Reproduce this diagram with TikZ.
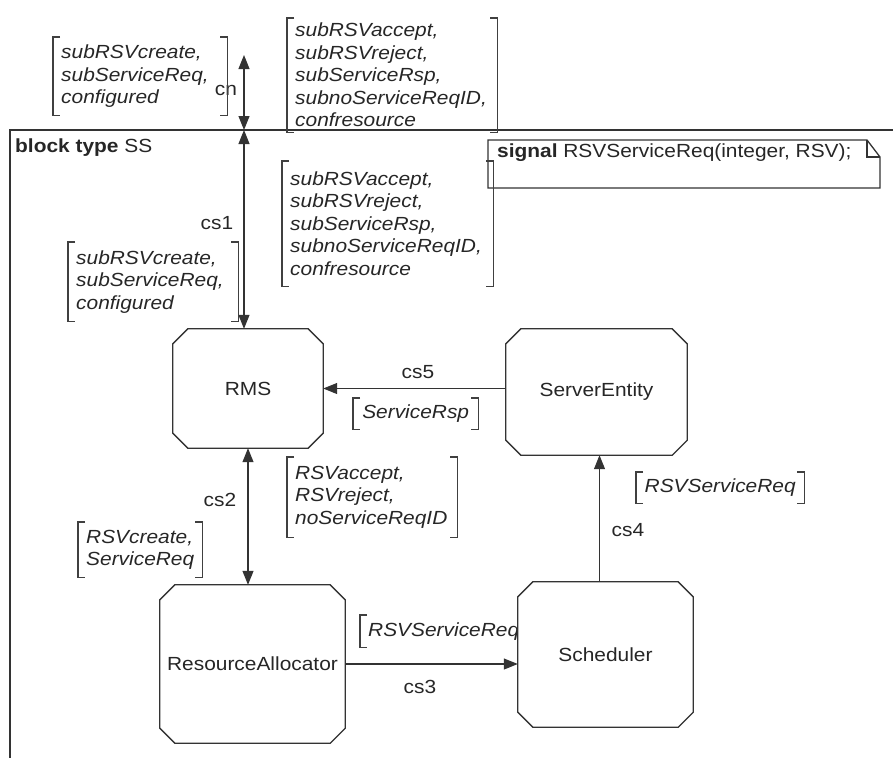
\documentclass[tikz,border=0pt]{standalone}
\usepackage{fontspec}
\setmainfont{Liberation Sans}[FakeStretch=1.1]
\usetikzlibrary{arrows.meta}
\pgfdeclarelayer{under}
\pgfdeclarelayer{boxes}
\pgfsetlayers{under,boxes,main}
\newcommand\octagonof[1]{\draw[boxline,fill=white] ([xshift=15pt]#1.north west) -- ([xshift=-15pt]#1.north east) -- ([yshift=-15pt]#1.north east) -- ([yshift=15pt]#1.south east) -- ([xshift=-15pt]#1.south east) -- ([xshift=15pt]#1.south west) -- ([yshift=15pt]#1.south west) -- ([yshift=-15pt]#1.north west) -- cycle;}
\newcommand\bracketsof[1]{\draw[brk] ([xshift=7pt]#1.north west) -- (#1.north west) -- (#1.south west) -- ([xshift=7pt]#1.south west); \draw[brk] ([xshift=-7pt]#1.north east) -- (#1.north east) -- (#1.south east) -- ([xshift=-7pt]#1.south east);}
\begin{document}
\begin{tikzpicture}[x=1pt,y=-1pt,
  every node/.style={font=\fontsize{19}{22.5}\selectfont, inner sep=0pt, text=black!85},
  lab/.style={font=\fontsize{19}{22.5}\selectfont\itshape, align=left, anchor=north west, inner xsep=8pt, inner ysep=0pt},
  blk/.style={draw=none},
  boxline/.style={line width=1.3pt, draw=black!80, line join=miter},
  frameline/.style={line width=1.5pt, draw=black!80},
  brk/.style={line width=1.1pt, draw=black!75},
  conn/.style={line width=1.1pt, draw=black!80},
  >={Triangle[length=14pt,width=11pt]}]
\useasboundingbox (0,0) rectangle (893,758);
% frame
\draw[frameline] (893,130) -- (10,130) -- (10,758);
\node[anchor=base west] (bt) at (15,152) {\textbf{block type} SS};
% signal text symbol
\draw[boxline, fill=white] (488,140) -- (867,140) -- (880,157) -- (880,188) -- (488,188) -- cycle;
\draw[boxline] (867,140) -- (867,157) -- (880,157);
\node[anchor=base west] (sig) at (497,157) {\textbf{signal} RSVServiceReq(integer, RSV);};
% blocks
\node[blk, minimum width=150pt, minimum height=119pt] (rms) at (248,388.5) {RMS};
\node[blk, minimum width=181pt, minimum height=126pt] (se) at (596.5,392) {ServerEntity};
\node[blk, minimum width=185pt, minimum height=158pt] (ra) at (252.5,664) {ResourceAllocator};
\node[blk, minimum width=175pt, minimum height=145pt] (sch) at (605.5,654.5) {Scheduler};
\begin{pgfonlayer}{boxes}
\octagonof{rms}
\octagonof{se}
\octagonof{ra}
\octagonof{sch}
\end{pgfonlayer}
% channels
\coordinate (cnT) at (244,55);
\coordinate (fj) at (244,130);
\draw[conn,<->] (cnT) -- (fj);
\draw[conn,<->] (fj) -- (fj |- rms.north);
\draw[conn,<->] (rms.south) -- (rms.south |- ra.north);
\draw[conn,->] (ra.east) -- (ra.east -| sch.west);
\draw[conn,->] ([xshift=-6pt]sch.north) -- ([xshift=-6pt]sch.north |- se.south);
\draw[conn,->] (se.west |- rms.east) -- (rms.east);
% channel names
\node (lcn) at (226,90) {cn};
\node (lcs1) at (217,223) {cs1};
\node (lcs2) at (220,500) {cs2};
\node (lcs3) at (420,687) {cs3};
\node (lcs4) at (628,530) {cs4};
\node (lcs5) at (418,372) {cs5};
% signal lists
\node[lab, text width=158pt, minimum height=78pt] (bcnL) at (53,37) {subRSVcreate,\\subServiceReq,\\configured};
\bracketsof{bcnL}
\node[lab, text width=194pt, minimum height=114pt] (bcnR) at (287,18) {subRSVaccept,\\subRSVreject,\\subServiceRsp,\\subnoServiceReqID,\\confresource};
\bracketsof{bcnR}
\node[lab, text width=154pt, minimum height=79pt] (bcs1L) at (68,242) {subRSVcreate,\\subServiceReq,\\configured};
\bracketsof{bcs1L}
\node[lab, text width=195pt, minimum height=125pt] (bcs1R) at (282,161) {subRSVaccept,\\subRSVreject,\\subServiceRsp,\\subnoServiceReqID,\\confresource};
\bracketsof{bcs1R}
\node[lab, text width=109pt, minimum height=31pt, align=center] (bcs5) at (353,398) {ServiceRsp};
\bracketsof{bcs5}
\node[lab, text width=108pt, minimum height=55pt] (bcs2L) at (78,522) {RSVcreate,\\ServiceReq};
\bracketsof{bcs2L}
\node[lab, text width=154pt, minimum height=80pt] (bcs2R) at (287,457) {RSVaccept,\\RSVreject,\\noServiceReqID};
\bracketsof{bcs2R}
\node[lab, text width=152pt, minimum height=31pt, align=center] (bcs4) at (636,472) {RSVServiceReq};
\bracketsof{bcs4}
\begin{pgfonlayer}{under}
\node[lab, text width=164pt, minimum height=32pt] (bcs3) at (360,615) {RSVServiceReq};
\bracketsof{bcs3}
\end{pgfonlayer}
\end{tikzpicture}
\end{document}
